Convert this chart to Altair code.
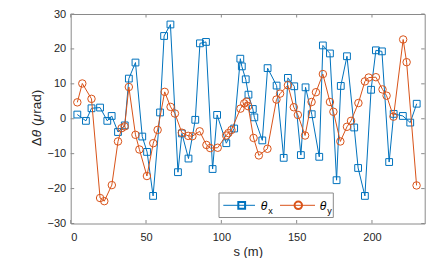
import altair as alt
import pandas as pd

# ---- data ----
s_x = [4.4, 10.1, 13.8, 19.5, 24.3, 27.2, 31.4, 35.9, 38.6, 43.0, 47.5, 50.7, 54.7,
       59.3, 62.0, 66.2, 71.2, 73.8, 78.2, 82.7, 85.8, 89.8, 94.2, 97.2, 103.3, 108.5,
       112.6, 113.6, 116.2, 118.0, 120.9, 121.9, 127.2, 130.7, 136.7, 141.4, 144.2,
       148.4, 152.8, 155.9, 160.0, 165.0, 167.4, 172.1, 176.5, 179.3, 183.4, 188.2,
       190.8, 195.3, 199.4, 202.6, 206.6, 211.4, 214.4, 220.5, 225.4, 229.7]
theta_x = [1.2, -0.6, 3.0, 3.2, -0.6, 0.8, -3.8, -1.9, 11.5, 16.1, -5.1, -9.5, -22.1,
           1.8, 23.7, 27.0, -15.3, -4.2, -11.4, -0.3, 21.6, 22.0, -14.4, 1.1, -7.0, -2.8,
           17.2, 15.0, 11.3, 6.9, 2.8, 0.4, -6.2, 14.5, 9.5, -11.2, 11.7,
           9.3, -10.4, 9.0, 1.3, -10.9, 21.0, 18.7, -17.6, 9.4, 17.9, -2.5,
           -14.1, -22.1, 8.3, 19.6, 19.3, -12.4, 1.4, 0.8, -1.1, 4.3]

s_y = [4.4, 7.7, 13.8, 19.5, 22.3, 27.3, 31.4, 33.8, 35.8, 38.6, 43.0, 45.6, 50.6,
       54.8, 57.7, 62.4, 66.3, 69.2, 73.8, 78.0, 80.8, 85.6, 90.1, 92.6, 97.6, 103.2,
       104.7, 106.7, 112.7, 115.2, 116.7, 117.8, 121.4, 124.9, 130.6, 136.6, 139.0,
       144.2, 148.1, 150.8, 155.6, 159.9, 162.8, 167.4, 172.1, 174.4, 179.0, 183.4,
       186.1, 191.0, 195.3, 197.8, 202.6, 207.0, 209.7, 214.3, 220.7, 223.0, 229.6]
theta_y = [4.7, 10.1, 5.7, -22.7, -23.6, -19.0, -6.5, -2.7, -2.2, 9.1, -4.6, -8.8, -16.4,
           -7.0, -3.2, 7.7, 3.4, 1.5, -4.0, -4.9, -5.0, -3.6, -7.5, -8.4, -8.3, -4.8,
           -4.1, -3.2, 2.9, 4.4, 4.9, 3.6, -5.5, -10.5, -8.6, 5.5, 7.2,
           9.6, 3.3, 1.1, -4.8, 4.8, 7.6, 12.8, 4.8, 2.0, -6.5, -2.3,
           -0.6, 4.5, 10.7, 11.8, 11.9, 8.4, 6.6, 0.6, 22.7, 16.2, -19.1]

x_ticks = [0, 50, 100, 150, 200]
y_ticks = [-30, -20, -10, 0, 10, 20, 30]

# y-axis title pieces
ytitle_parts = ["Δ", "θ", "(", "μ", "rad)"]

# ---- styling ----
W, H = 354, 209.5
BLUE = "#0072BD"
ORANGE = "#D95319"
AX = "#262626"
FRAME = "#8a8a8a"
FONT = "Liberation Sans"

dx = pd.DataFrame({"s": s_x, "v": theta_x})
dy = pd.DataFrame({"s": s_y, "v": theta_y})

xs = alt.Scale(domain=[0, 235], nice=False, zero=False)
ys = alt.Scale(domain=[-30, 30], nice=False, zero=False)

xax = alt.Axis(values=x_ticks, title="s (m)", ticks=False, domain=False, grid=False,
               labelFont=FONT, labelFontSize=11, labelColor=AX, labelPadding=8,
               titleFont=FONT, titleFontSize=13, titleFontWeight="normal",
               titleColor=AX, titlePadding=3)
yax = alt.Axis(values=y_ticks, title=None, ticks=False, domain=False, grid=False,
               labelFont=FONT, labelFontSize=11, labelColor=AX, labelPadding=5)

X = alt.X("s:Q", scale=xs, axis=xax)
Y = alt.Y("v:Q", scale=ys, axis=yax)

bx = alt.Chart(dx)
line_x = bx.mark_line(color=BLUE, strokeWidth=1).encode(x=X, y=Y)
pts_x = bx.mark_point(shape="square", size=46, filled=False, color=BLUE,
                      strokeWidth=1, opacity=1).encode(x=X, y=Y)
by = alt.Chart(dy)
line_y = by.mark_line(color=ORANGE, strokeWidth=1).encode(x=X, y=Y)
pts_y = by.mark_point(shape="circle", size=56, filled=False, color=ORANGE,
                      strokeWidth=1, opacity=1).encode(x=X, y=Y)

# inward ticks
tx = alt.Chart(pd.DataFrame({"s": x_ticks}))
tick_b = tx.mark_rule(color=FRAME, strokeWidth=1).encode(x=X, y=alt.value(H), y2=alt.value(H - 3.5))
tick_t = tx.mark_rule(color=FRAME, strokeWidth=1).encode(x=X, y=alt.value(0), y2=alt.value(3.5))
ty = alt.Chart(pd.DataFrame({"v": y_ticks}))
tick_l = ty.mark_rule(color=FRAME, strokeWidth=1).encode(y=Y, x=alt.value(0), x2=alt.value(3.5))
tick_r = ty.mark_rule(color=FRAME, strokeWidth=1).encode(y=Y, x=alt.value(W), x2=alt.value(W - 3.5))

one = alt.Chart(pd.DataFrame({"a": [0]}))

# y-axis title built from pieces (normal / italic), rotated
tkw = dict(font=FONT, fontSize=13.5, color=AX, angle=270, align="left", baseline="middle")
yt_pos = [132.3, 123.3, 112.1, 107.6, 99.8]
yt_ital = [False, True, False, True, False]
ytitle = []
for t, p, it in zip(ytitle_parts, yt_pos, yt_ital):
    kw = dict(tkw)
    if it:
        kw["fontStyle"] = "italic"
    ytitle.append(one.mark_text(text=t, **kw).encode(x=alt.value(-34), y=alt.value(p)))

# legend
leg_box = one.mark_rect(fill="white", stroke=FRAME, strokeWidth=1).encode(
    x=alt.value(148.3), x2=alt.value(262.6), y=alt.value(179), y2=alt.value(203.5))
leg_lx = one.mark_rule(color=BLUE, strokeWidth=1).encode(
    x=alt.value(152.6), x2=alt.value(184.3), y=alt.value(191.3))
leg_px = one.mark_point(shape="square", size=46, filled=False, color=BLUE, opacity=1).encode(
    x=alt.value(171), y=alt.value(191.3))
leg_ly = one.mark_rule(color=ORANGE, strokeWidth=1).encode(
    x=alt.value(209.3), x2=alt.value(244.3), y=alt.value(191.3))
leg_py = one.mark_point(shape="circle", size=56, filled=False, color=ORANGE, opacity=1).encode(
    x=alt.value(227.6), y=alt.value(191.3))
txt_kw = dict(font=FONT, color="#000000", align="center", baseline="middle")
leg_t1 = one.mark_text(text="θ", fontSize=12, fontStyle="italic", **txt_kw).encode(
    x=alt.value(193.3), y=alt.value(191.8))
leg_s1 = one.mark_text(text="x", fontSize=9, **txt_kw).encode(
    x=alt.value(199.8), y=alt.value(197))
leg_t2 = one.mark_text(text="θ", fontSize=12, fontStyle="italic", **txt_kw).encode(
    x=alt.value(252.3), y=alt.value(191.8))
leg_s2 = one.mark_text(text="y", fontSize=9, **txt_kw).encode(
    x=alt.value(258.8), y=alt.value(197))

chart = alt.layer(
    tick_b, tick_t, tick_l, tick_r,
    line_x, pts_x, line_y, pts_y,
    *ytitle,
    leg_box, leg_lx, leg_px, leg_ly, leg_py, leg_t1, leg_s1, leg_t2, leg_s2,
).properties(
    width=W, height=H,
    autosize=alt.AutoSizeParams(type="none"),
    padding={"left": 62.7, "top": 6, "right": 10.3, "bottom": 34.5},
    background="white",
).configure_view(stroke=FRAME, strokeWidth=1)

chart.save("out.html", embed_options={"renderer": "svg", "actions": False})
